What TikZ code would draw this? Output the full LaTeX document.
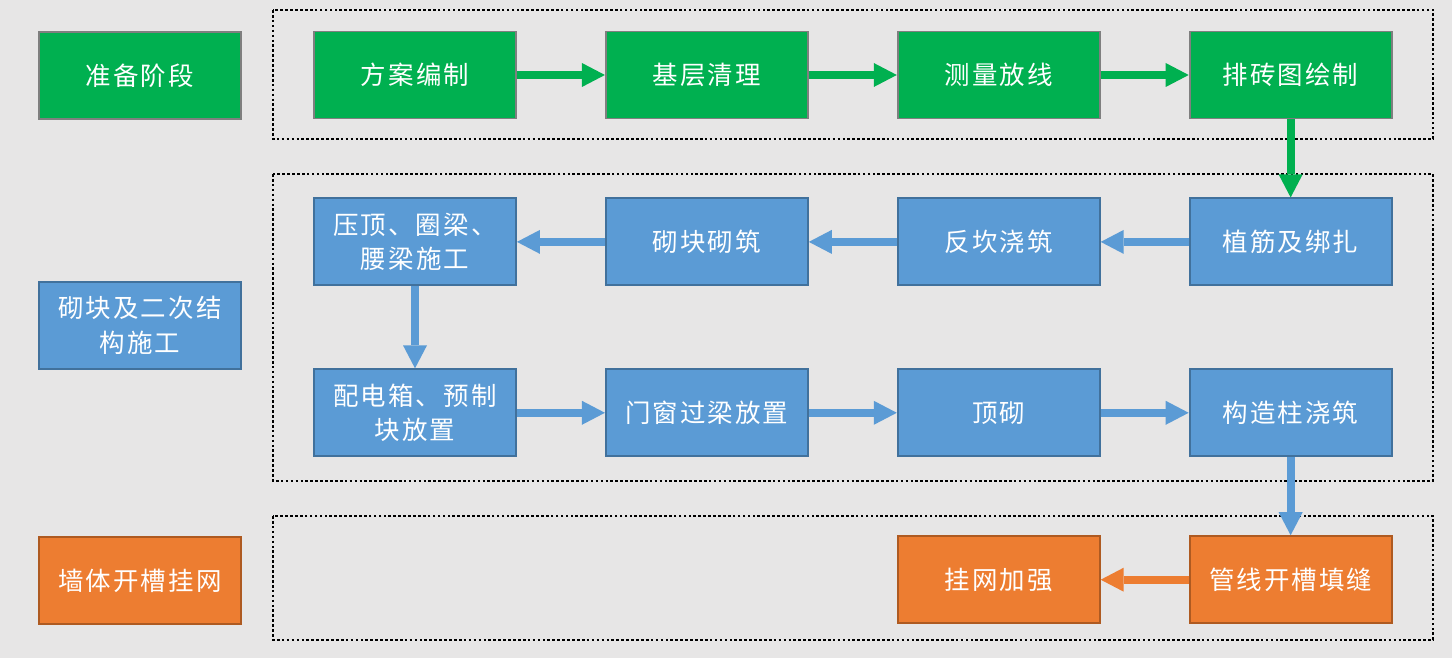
\documentclass[tikz,border=0pt]{standalone}
\usepackage{fontspec}
\newfontfamily\cjkfont{Noto Sans CJK SC}[LetterSpace=8]
\usepackage{tikz}
\usetikzlibrary{positioning,arrows.meta}
\definecolor{pgbg}{HTML}{E7E6E6}
\definecolor{pgreen}{HTML}{00B050}
\definecolor{pgreenline}{HTML}{7F7F7F}
\definecolor{pblue}{HTML}{5B9BD5}
\definecolor{pblueline}{HTML}{41719C}
\definecolor{porange}{HTML}{ED7D31}
\definecolor{porangeline}{HTML}{AE5A21}
\tikzset{step box/.style={draw,line width=1.1pt,minimum width=4.04cm,minimum height=1.74cm,inner sep=0pt,align=center,text=white,font=\cjkfont\fontsize{14.5}{19.8}\selectfont}}
\tikzset{green box/.style={step box,fill=pgreen,draw=pgreenline}}
\tikzset{blue box/.style={step box,fill=pblue,draw=pblueline}}
\tikzset{orange box/.style={step box,fill=porange,draw=porangeline}}
\tikzset{flow arrow/.style={line width=4.5pt,-{Triangle[length=0.46cm,width=0.48cm,line width=0pt]}}}
\tikzset{phase frame/.style={draw=black,line width=0.9pt,dash pattern=on 1.5pt off 1.3pt}}

\begin{document}
\begin{tikzpicture}[x=0.02cm,y=-0.02cm]
            \fill[pgbg] (0,0) rectangle (1452,658);
            \draw[phase frame] (273,10) rectangle (1433,139);
            \draw[phase frame] (273,174) rectangle (1433,481);
            \draw[phase frame] (273,516) rectangle (1433,640);

            \node[green box] (prep) at (140,75.5) {准备阶段};
            \node[blue box] (build) at (140,325.5) {砌块及二次结\\构施工};
            \node[orange box] (slot) at (140,580.5) {墙体开槽挂网};

            \node[green box] (fangan) at (415,75) {方案编制};
            \node[green box] (jiceng) [right = 1.76cm of fangan] {基层清理};
            \node[green box] (celiang) [right = 1.76cm of jiceng] {测量放线};
            \node[green box] (paizhuan) [right = 1.76cm of celiang] {排砖图绘制};

            \node[blue box] (zhijin) [below = 1.56cm of paizhuan] {植筋及绑扎};
            \node[blue box] (fankan) [left = 1.76cm of zhijin] {反坎浇筑};
            \node[blue box] (qizhu) [left = 1.76cm of fankan] {砌块砌筑};
            \node[blue box] (yading) [left = 1.76cm of qizhu] {压顶、圈梁、\\腰梁施工};

            \node[blue box] (peidian) [below = 1.64cm of yading] {配电箱、预制\\块放置};
            \node[blue box] (menchuang) [right = 1.76cm of peidian] {门窗过梁放置};
            \node[blue box] (dingqi) [right = 1.76cm of menchuang] {顶砌};
            \node[blue box] (gouzao) [right = 1.76cm of dingqi] {构造柱浇筑};

            \node[orange box] (guanxian) [below = 1.56cm of gouzao] {管线开槽填缝};
            \node[orange box] (guawang) [left = 1.76cm of guanxian] {挂网加强};

            \path[flow arrow, color=pgreen]
            (fangan) edge (jiceng)
            (jiceng) edge (celiang)
            (celiang) edge (paizhuan)
            (paizhuan) edge (zhijin);

            \path[flow arrow, color=pblue]
            (zhijin) edge (fankan)
            (fankan) edge (qizhu)
            (qizhu) edge (yading)
            (yading) edge (peidian)
            (peidian) edge (menchuang)
            (menchuang) edge (dingqi)
            (dingqi) edge (gouzao)
            (gouzao) edge (guanxian);

            \path[flow arrow, color=porange]
            (guanxian) edge (guawang);
        \end{tikzpicture}
\end{document}
